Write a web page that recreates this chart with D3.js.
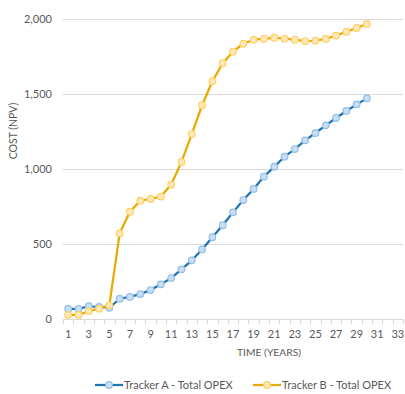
<!DOCTYPE html>
<html>
<head>
<meta charset="utf-8">
<script src="https://cdn.jsdelivr.net/npm/d3@7"></script>
<style>
  html, body { margin: 0; padding: 0; background: #fff; }
  svg { display: block; font-family: Lato, "Open Sans", sans-serif; }
</style>
</head>
<body>
<svg id="chart" width="405" height="394"></svg>
<script>
// Year categories shown on the x axis (1..33)
const years = d3.range(1, 34);
const yTicks = [0, 500, 1000, 1500, 2000];

// Cumulative OPEX (NPV) per year, years 1..30
const trackerA = [67, 67, 85, 80, 75, 135, 147, 166, 193, 231, 273, 331, 391, 464, 545,
  625, 711, 793, 867, 949, 1015, 1082, 1133, 1191, 1240, 1291, 1340, 1387, 1431, 1471];
const trackerB = [27, 27, 53, 69, 91, 571, 715, 789, 800, 816, 896, 1047, 1233, 1425, 1585,
  1705, 1782, 1835, 1862, 1868, 1875, 1869, 1862, 1853, 1855, 1867, 1889, 1915, 1940, 1967];

const seriesNames = ["Tracker A - Total OPEX", "Tracker B - Total OPEX"];
const seriesData = [trackerA, trackerB];
const lineColors = ["#1f74b1", "#e9a900"];
const markerFill = ["#c9def3", "#ffe8bd"];
const markerStroke = ["#92bfe7", "#ffd060"];

const svg = d3.select("#chart");
const plotLeft = 63, plotRight = 403, plotTop = 19, plotBottom = 319;

const x = d3.scaleBand().domain(years).range([plotLeft, plotRight]);
const y = d3.scaleLinear().domain([0, 2000]).range([plotBottom, plotTop]);

// Horizontal gridlines
svg.append("g").selectAll("line").data(yTicks.filter(d => d > 0)).join("line")
  .attr("x1", plotLeft).attr("x2", plotRight)
  .attr("y1", d => Math.round(y(d)) + 0.5).attr("y2", d => Math.round(y(d)) + 0.5)
  .attr("stroke", "#d9d9d9").attr("stroke-width", 1);

// Y axis labels
const yAxis = d3.axisLeft(y).tickValues(yTicks).tickSize(0).tickPadding(11)
  .tickFormat(d3.format(","));
svg.append("g").attr("transform", `translate(${plotLeft},0)`).call(yAxis)
  .call(g => g.select(".domain").remove())
  .call(g => g.selectAll("text").attr("fill", "#595959").attr("font-size", 11)
    .attr("font-family", "Lato, sans-serif"));

// X axis: baseline, tick marks at category boundaries, odd-year labels
const xg = svg.append("g");
xg.append("line").attr("x1", plotLeft).attr("x2", plotRight)
  .attr("y1", plotBottom + 0.5).attr("y2", plotBottom + 0.5)
  .attr("stroke", "#d9d9d9");
const edges = years.map(d => x(d)).concat([plotRight]);
xg.selectAll("line.tick").data(edges).join("line").attr("class", "tick")
  .attr("x1", d => Math.round(d) + 0.5).attr("x2", d => Math.round(d) + 0.5)
  .attr("y1", plotBottom).attr("y2", plotBottom + 5)
  .attr("stroke", "#d9d9d9");
xg.selectAll("text").data(years.filter(d => d % 2 === 1)).join("text")
  .attr("x", d => x(d) + x.bandwidth() / 2)
  .attr("y", plotBottom + 19)
  .attr("text-anchor", "middle")
  .attr("fill", "#595959").attr("font-size", 11)
  .text(d => d);

// Axis titles
svg.append("text").attr("x", 269).attr("y", 356).attr("text-anchor", "middle")
  .attr("fill", "#595959").attr("font-size", 10.3).text("TIME (YEARS)");
svg.append("text").attr("transform", "translate(17,131) rotate(-90)")
  .attr("text-anchor", "middle").attr("fill", "#595959").attr("font-size", 10.5)
  .text("COST (NPV)");

// Series lines and markers
const cx = i => x(i + 1) + x.bandwidth() / 2;
const line = d3.line().x((d, i) => cx(i)).y(d => y(d));
seriesData.forEach((data, s) => {
  const g = svg.append("g");
  g.append("path").datum(data).attr("d", line)
    .attr("fill", "none").attr("stroke", lineColors[s]).attr("stroke-width", 2.25)
    .attr("stroke-linejoin", "round");
  g.selectAll("circle").data(data).join("circle")
    .attr("cx", (d, i) => cx(i)).attr("cy", d => y(d)).attr("r", 3.3)
    .attr("fill", markerFill[s]).attr("stroke", markerStroke[s]).attr("stroke-width", 1.2);
});

// Legend
const legendX = [95, 253];
seriesNames.forEach((name, s) => {
  const g = svg.append("g").attr("transform", `translate(${legendX[s]},385)`);
  g.append("line").attr("x1", 0).attr("x2", 28).attr("y1", 0).attr("y2", 0)
    .attr("stroke", lineColors[s]).attr("stroke-width", 2.25);
  g.append("circle").attr("cx", 14).attr("cy", 0).attr("r", 3.3)
    .attr("fill", markerFill[s]).attr("stroke", markerStroke[s]).attr("stroke-width", 1.2);
  g.append("text").attr("x", 29).attr("y", 4).attr("fill", "#595959")
    .attr("font-size", 11).text(name);
});
</script>
</body>
</html>
